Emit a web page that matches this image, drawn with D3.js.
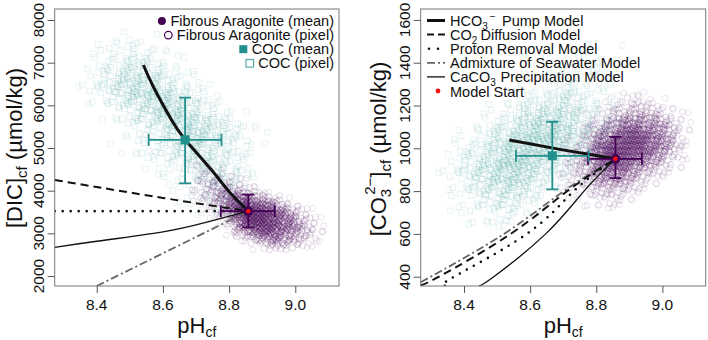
<!DOCTYPE html>
<html><head><meta charset="utf-8">
<script src="https://cdn.jsdelivr.net/npm/d3@7"></script>
<style>
body{margin:0;background:#fff}
svg{display:block}
text{font-family:"Liberation Sans",Arial,Helvetica,sans-serif;fill:#111}
</style>
</head><body>
<svg id="c" width="708" height="340"></svg>
<script>
// ---------------- DATA ----------------
const xTicks = [8.4, 8.6, 8.8, 9.0];
const dicTicks = [2000, 3000, 4000, 5000, 6000, 7000, 8000];
const co3Ticks = [400, 600, 800, 1000, 1200, 1400, 1600];

// pixel clouds, read from the picture as counts of pixels per bin
// COC, DIC panel: pH bins 8.36 + 0.03*i ; DIC bins 7600 - 200*j
const cocDicPH0 = 8.36, cocDicPHstep = 0.03, cocDicV0 = 7600, cocDicVstep = 200;
const cocDicGrid = [
"00011101000000000000",
"00121211100000000000",
"01122322110000000000",
"01223433211000000000",
"11234544321100000000",
"12345655432110000000",
"12345666543211000000",
"01234566654321100000",
"01123456665432110000",
"00112345666543211000",
"00011234566654321100",
"00001123456665432110",
"00001112345665432110",
"00011122345554321100",
"00000111234554432100",
"00000011123454432100",
"00000001112344432100",
"00000000111234432100",
"00000000011223332100",
"00000000001122221100",
"00000000000112211000",
"00000000000011110000"];
// Fibrous aragonite, DIC panel: pH bins 8.70 + 0.025*i ; DIC bins 4600 - 100*j
const araDicPH0 = 8.70, araDicPHstep = 0.025, araDicV0 = 4600, araDicVstep = 100;
const araDicGrid = [
"1110000000000000",
"1111000000000000",
"1211100000000000",
"1222110000000000",
"1223211000000000",
"1233321100000000",
"1234432110000000",
"1234565321000000",
"1235677543210000",
"0124678765421000",
"0123689987532100",
"0012589998653210",
"0012479998764210",
"0001368998765321",
"0001257898765321",
"0000146788765421",
"0000134677654321",
"0000012456654321",
"0000001234543211",
"0000000123332110"];
// COC, CO3 panel: pH bins 8.34 + 0.03*i ; CO3 bins 1480 - 40*j
const cocCo3PH0 = 8.34, cocCo3PHstep = 0.03, cocCo3V0 = 1480, cocCo3Vstep = 40;
const cocCo3Grid = [
"000000000000000100100",
"000000000000010110000",
"000000000000101111000",
"000000000001111211000",
"000000000011222111000",
"000000001112332111000",
"000000011223443211100",
"000001123445543321100",
"000011234556554322100",
"000112345667654332110",
"001123456777654332110",
"011234567777654322110",
"012345677776543221100",
"112345677765432211000",
"123456777654322110000",
"123456676543211000000",
"012345665432110000000",
"012344554321100000000",
"011233443211000000000",
"011222332110000000000",
"001112221100000000000",
"000111110000000000000"];
// Fibrous aragonite, CO3 panel: pH bins 8.70 + 0.025*i ; CO3 bins 1250 - 25*j
const araCo3PH0 = 8.70, araCo3PHstep = 0.025, araCo3V0 = 1250, araCo3Vstep = 25;
const araCo3Grid = [
"0000000111100000",
"0000001122111000",
"0000011223221100",
"0000112334332110",
"0001123445443211",
"0001234566554321",
"0012345677665321",
"0012456788765421",
"0113567899876421",
"0123678999876521",
"1124689999876421",
"1235789998765321",
"1235789987654211",
"1234688876543210",
"1234677765432110",
"1233566654321100",
"1223455543211000",
"1122344432110000",
"0112333321100000",
"0111222211000000",
"0011112110000000",
"0001111100000000"];

// group means and error bars: [Fibrous Aragonite, COC]
const meanPH  = [8.858, 8.667];
const pHLo    = [8.775, 8.557];
const pHHi    = [8.938, 8.777];
const meanDIC = [3520, 5190];
const dicLo   = [3142, 4173];
const dicHi   = [3906, 6179];
const meanCO3 = [951, 965];
const co3Lo   = [861, 808];
const co3Hi   = [1053, 1124];

// model trajectories, DIC panel
const pumpPH_d  = [8.541, 8.571, 8.626, 8.668, 8.747, 8.802, 8.858];
const pumpDIC   = [6945, 6437, 5657, 5190, 4485, 3960, 3520];
const diffPH_d  = [8.273, 8.600, 8.858];
const diffDIC   = [4250, 3830, 3520];
const protPH_d  = [8.273, 8.858];
const protDIC   = [3520, 3520];
const admixPH_d = [8.400, 8.858];
const admixDIC  = [1766, 3520];
const precPH_d  = [8.273, 8.400, 8.600, 8.730, 8.858];
const precDIC   = [2673, 2815, 3035, 3258, 3520];

// model trajectories, CO3 panel
const pumpPH_c  = [8.537, 8.690, 8.858];
const pumpCO3   = [1039, 995, 951];
const diffPH_c  = [8.269, 8.324, 8.541, 8.712, 8.858];
const diffCO3   = [361, 400, 600, 800, 951];
const protPH_c  = [8.342, 8.370, 8.590, 8.732, 8.858];
const protCO3   = [357, 400, 600, 800, 951];
const admixPH_c = [8.269, 8.521, 8.702, 8.858];
const admixCO3  = [374, 600, 800, 951];
const precPH_c  = [8.445, 8.490, 8.647, 8.763, 8.858];
const precCO3   = [357, 400, 600, 800, 951];

const legendLeft = ["Fibrous Aragonite (mean)", "Fibrous Aragonite (pixel)", "COC (mean)", "COC (pixel)"];

// ---------------- DRAWING ----------------
const PURPLE = "#440154", TEAL = "#21908C", RED = "#ff1010";
const svg = d3.select("#c");
const JIT = [[0,0],[3,-2],[-3,2],[2,3],[-2,-3],[4,1],[-4,-1],[1,-4],[-1,4]];
const TOP = 9, BOT = 286;

const styles = {
  pump:  {w:3,   c:"#111", dash:null},
  diff:  {w:2,   c:"#111", dash:"8,5"},
  prot:  {w:2.6, c:"#111", dash:"0,8", cap:"round"},
  admix: {w:1.8, c:"#666", dash:"8,3,2,3"},
  prec:  {w:1.3, c:"#111", dash:null}
};

// alpha of a marker grows with how crowded its bin is (like overplotted pixels)
function cloud(g, grid, p0, dp, v0, dv, x, y, kind, color, a0, a1, js){
  grid.forEach((row, j) => {
    for (let i = 0; i < row.length; i++) {
      const n = +row[i];
      if (!n) continue;
      const cx = x(p0 + dp * i), cy = y(v0 - dv * j);
      const alpha = a0 + a1 * n;
      for (let k = 0; k < n; k++) {
        const o = JIT[(k + i * 4 + j * 7) % JIT.length];
        const px = cx + o[0] * js, py = cy + o[1] * js;
        if (kind === "sq") {
          g.append("rect").attr("x", px - 2.7).attr("y", py - 2.7).attr("width", 5.4).attr("height", 5.4)
            .attr("fill", "none").attr("stroke", color).attr("stroke-width", 1).attr("stroke-opacity", alpha);
        } else {
          g.append("circle").attr("cx", px).attr("cy", py).attr("r", 3)
            .attr("fill", "none").attr("stroke", color).attr("stroke-width", 1).attr("stroke-opacity", alpha);
        }
      }
    }
  });
}

function modelLine(g, x, y, xs, ys, st, curve){
  const pts = xs.map((v, i) => [v, ys[i]]);
  const line = d3.line().x(d => x(d[0])).y(d => y(d[1])).curve(curve || d3.curveNatural);
  const p = g.append("path").attr("d", line(pts)).attr("fill", "none")
    .attr("stroke", st.c).attr("stroke-width", st.w);
  if (st.dash) p.attr("stroke-dasharray", st.dash);
  if (st.cap) p.attr("stroke-linecap", st.cap);
}

function errBars(g, x, y, mean, lo, hi, color){
  for (let k = 0; k < 2; k++) {
    const c = color[k];
    const cx = x(meanPH[k]), cy = y(mean[k]);
    const add = (x1, y1, x2, y2) => g.append("line").attr("x1", x1).attr("y1", y1).attr("x2", x2).attr("y2", y2)
      .attr("stroke", c).attr("stroke-width", 1.8);
    add(x(pHLo[k]), cy, x(pHHi[k]), cy);
    add(x(pHLo[k]), cy - 6, x(pHLo[k]), cy + 6);
    add(x(pHHi[k]), cy - 6, x(pHHi[k]), cy + 6);
    add(cx, y(lo[k]), cx, y(hi[k]));
    add(cx - 6, y(lo[k]), cx + 6, y(lo[k]));
    add(cx - 6, y(hi[k]), cx + 6, y(hi[k]));
  }
  g.append("rect").attr("x", x(meanPH[1]) - 4.5).attr("y", y(mean[1]) - 4.5).attr("width", 9).attr("height", 9).attr("fill", TEAL);
  g.append("circle").attr("cx", x(meanPH[0])).attr("cy", y(mean[0])).attr("r", 4.8).attr("fill", PURPLE);
  g.append("circle").attr("cx", x(meanPH[0])).attr("cy", y(mean[0])).attr("r", 2.2).attr("fill", RED);
}

function panel(cfg){
  const x = d3.scaleLinear().domain(cfg.xDom).range([cfg.left, cfg.right]);
  const y = d3.scaleLinear().domain(cfg.yDom).range([BOT, TOP]);
  const g = svg.append("g");
  const clipId = "clip" + cfg.id;
  svg.append("clipPath").attr("id", clipId).append("rect")
    .attr("x", cfg.left).attr("y", TOP).attr("width", cfg.right - cfg.left).attr("height", BOT - TOP);
  const pg = g.append("g").attr("clip-path", `url(#${clipId})`);
  cloud(pg, cfg.coc[0], cfg.coc[1], cfg.coc[2], cfg.coc[3], cfg.coc[4], x, y, "sq", TEAL, 0.09, 0.012, 1.3);
  cloud(pg, cfg.ara[0], cfg.ara[1], cfg.ara[2], cfg.ara[3], cfg.ara[4], x, y, "ci", PURPLE, 0.09, 0.024, 0.9);
  cfg.models.forEach(m => modelLine(pg, x, y, m[0], m[1], m[2], m[3]));
  errBars(pg, x, y, cfg.mean, cfg.lo, cfg.hi, [PURPLE, TEAL]);

  g.append("rect").attr("x", cfg.left).attr("y", TOP).attr("width", cfg.right - cfg.left).attr("height", BOT - TOP)
    .attr("fill", "none").attr("stroke", "#777").attr("stroke-width", 1);

  const ax = g.append("g").attr("transform", `translate(0,${BOT})`)
    .call(d3.axisBottom(x).tickValues(xTicks).tickSize(7).tickFormat(""));
  ax.select(".domain").remove();
  ax.selectAll("line").attr("stroke", "#555");
  g.selectAll(null).data(xTicks).enter().append("text")
    .attr("x", d => x(d)).attr("y", 310).attr("text-anchor", "middle")
    .attr("font-size", 15.5).attr("fill", "#222").text(d3.format(".1f"));

  const ay = g.append("g").attr("transform", `translate(${cfg.left},0)`)
    .call(d3.axisLeft(y).tickValues(cfg.yTicks).tickSize(7).tickFormat(""));
  ay.select(".domain").remove();
  ay.selectAll("line").attr("stroke", "#555");
  g.selectAll(null).data(cfg.yTicks).enter().append("text")
    .attr("transform", d => `translate(${cfg.left - 11},${y(d)}) rotate(-90)`)
    .attr("text-anchor", "middle").attr("font-size", 15.5).attr("fill", "#222").text(d3.format("d"));

  const xt = g.append("text").attr("x", (cfg.left + cfg.right) / 2).attr("y", 333)
    .attr("text-anchor", "middle").attr("font-size", 22);
  xt.append("tspan").text("pH");
  xt.append("tspan").attr("font-size", 14).attr("dy", 4).text("cf");
  return {x, y, g};
}

// ---- left panel ----
panel({
  id: "L", left: 54.7, right: 339, xDom: [8.273, 9.132], yDom: [1766, 8258], yTicks: dicTicks,
  coc: [cocDicGrid, cocDicPH0, cocDicPHstep, cocDicV0, cocDicVstep],
  ara: [araDicGrid, araDicPH0, araDicPHstep, araDicV0, araDicVstep],
  models: [
    [diffPH_d, diffDIC, styles.diff],
    [protPH_d, protDIC, styles.prot, d3.curveLinear],
    [admixPH_d, admixDIC, styles.admix, d3.curveLinear],
    [precPH_d, precDIC, styles.prec],
    [pumpPH_d, pumpDIC, styles.pump]
  ],
  mean: meanDIC, lo: dicLo, hi: dicHi
});
{
  const t = svg.append("text").attr("transform", "translate(22,148) rotate(-90)")
    .attr("text-anchor", "middle").attr("font-size", 22);
  t.append("tspan").text("[DIC]");
  t.append("tspan").attr("font-size", 15).attr("dy", 5).text("cf");
  t.append("tspan").attr("dy", -5).text(" (\u00b5mol/kg)");
}
{
  const rows = [26, 40.1, 54.2, 68.3];
  rows.forEach((by, k) => {
    const t = svg.append("text").attr("x", 334).attr("y", by).attr("text-anchor", "end")
      .attr("font-size", 14.5).text(legendLeft[k]);
    const w = t.node().getComputedTextLength();
    const mx = 334 - w - 8.5, my = by - 5;
    if (k === 0) svg.append("circle").attr("cx", mx).attr("cy", my).attr("r", 4).attr("fill", PURPLE);
    if (k === 1) svg.append("circle").attr("cx", mx).attr("cy", my).attr("r", 3.8).attr("fill", "none").attr("stroke", PURPLE).attr("stroke-width", 1.2);
    if (k === 2) svg.append("rect").attr("x", mx - 4).attr("y", my - 4).attr("width", 8).attr("height", 8).attr("fill", TEAL);
    if (k === 3) svg.append("rect").attr("x", mx - 3.8).attr("y", my - 3.8).attr("width", 7.6).attr("height", 7.6).attr("fill", "none").attr("stroke", TEAL).attr("stroke-opacity", 0.75).attr("stroke-width", 1.2);
  });
}

// ---- right panel ----
panel({
  id: "R", left: 420.7, right: 705.7, xDom: [8.269, 9.131], yDom: [356.5, 1651], yTicks: co3Ticks,
  coc: [cocCo3Grid, cocCo3PH0, cocCo3PHstep, cocCo3V0, cocCo3Vstep],
  ara: [araCo3Grid, araCo3PH0, araCo3PHstep, araCo3V0, araCo3Vstep],
  models: [
    [admixPH_c, admixCO3, styles.admix],
    [diffPH_c, diffCO3, styles.diff],
    [protPH_c, protCO3, styles.prot],
    [precPH_c, precCO3, styles.prec],
    [pumpPH_c, pumpCO3, styles.pump]
  ],
  mean: meanCO3, lo: co3Lo, hi: co3Hi
});
{
  const t = svg.append("text").attr("transform", "translate(386,149) rotate(-90)")
    .attr("text-anchor", "middle").attr("font-size", 22);
  t.append("tspan").text("[CO");
  t.append("tspan").attr("font-size", 15).attr("dy", 5).text("3");
  t.append("tspan").attr("font-size", 15).attr("dx", -6).attr("dy", -16).text("2\u2212");
  t.append("tspan").attr("dy", 11).text("]");
  t.append("tspan").attr("font-size", 15).attr("dy", 5).text("cf");
  t.append("tspan").attr("dy", -5).text(" (\u00b5mol/kg)");
}
{
  const rows = [26, 40.1, 54.2, 68.3, 82.4, 96.5];
  const sty = [styles.pump, styles.diff, styles.prot, styles.admix, styles.prec];
  sty.forEach((st, k) => {
    const ly = rows[k] - 5.5;
    const p = svg.append("line").attr("x1", 427).attr("x2", 445).attr("y1", ly).attr("y2", ly)
      .attr("stroke", st.c).attr("stroke-width", st.w);
    if (st.dash) p.attr("stroke-dasharray", k === 2 ? "0,9" : (k === 1 ? "7,4" : "8,3,2,3"));
    if (st.cap) p.attr("stroke-linecap", st.cap);
    if (k === 2) p.attr("x1", 429);
  });
  const fs = 14.5;
  const t1 = svg.append("text").attr("x", 450).attr("y", rows[0]).attr("font-size", fs);
  t1.append("tspan").text("HCO");
  t1.append("tspan").attr("font-size", 10).attr("dy", 4).text("3");
  t1.append("tspan").attr("font-size", 10).attr("dx", 2).attr("dy", -10).text("\u2212");
  t1.append("tspan").attr("x", 502).attr("dy", 6).text("Pump Model");
  const t2 = svg.append("text").attr("x", 450).attr("y", rows[1]).attr("font-size", fs);
  t2.append("tspan").text("CO");
  t2.append("tspan").attr("font-size", 10).attr("dy", 4).text("2");
  t2.append("tspan").attr("x", 480.5).attr("dy", -4).text("Diffusion Model");
  svg.append("text").attr("x", 450).attr("y", rows[2]).attr("font-size", fs).text("Proton Removal Model");
  svg.append("text").attr("x", 450).attr("y", rows[3]).attr("font-size", fs).text("Admixture of Seawater Model");
  const t5 = svg.append("text").attr("x", 450).attr("y", rows[4]).attr("font-size", fs);
  t5.append("tspan").text("CaCO");
  t5.append("tspan").attr("font-size", 10).attr("dy", 4).text("3");
  t5.append("tspan").attr("x", 500.5).attr("dy", -4).text("Precipitation Model");
  svg.append("text").attr("x", 450).attr("y", rows[5]).attr("font-size", fs).text("Model Start");
  svg.append("circle").attr("cx", 438).attr("cy", rows[5] - 5.5).attr("r", 2.4).attr("fill", RED);
}
</script>
</body></html>
